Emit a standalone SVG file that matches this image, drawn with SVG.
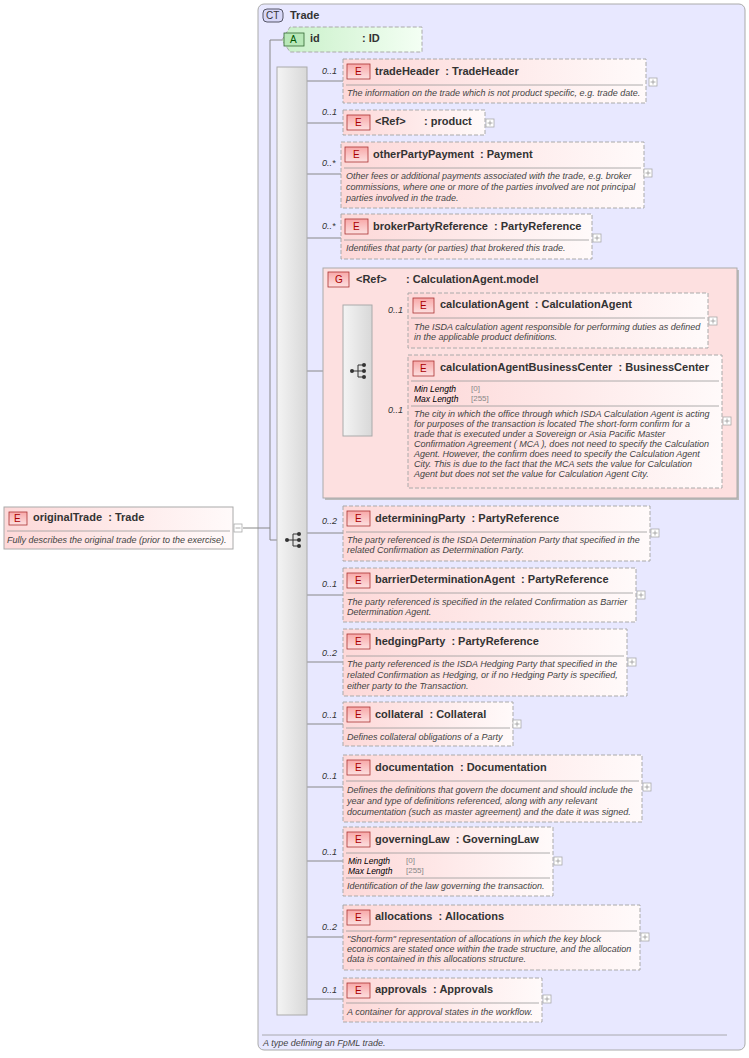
<svg xmlns="http://www.w3.org/2000/svg" width="749" height="1058" viewBox="0 0 749 1058">
<defs>
<linearGradient id="eg" x1="0" y1="0" x2="1" y2="0"><stop offset="0" stop-color="#fdd8d8"/><stop offset="1" stop-color="#fffafa"/></linearGradient>
<linearGradient id="ag" x1="0" y1="0" x2="1" y2="0"><stop offset="0" stop-color="#c8f0c8"/><stop offset="1" stop-color="#f4fff4"/></linearGradient>
<linearGradient id="sg" x1="0" y1="0" x2="1" y2="0"><stop offset="0" stop-color="#f4f4f4"/><stop offset="1" stop-color="#d8d8d8"/></linearGradient>
<linearGradient id="bg" x1="0" y1="0" x2="0" y2="1"><stop offset="0" stop-color="#f8a8a8"/><stop offset="1" stop-color="#fde0e0"/></linearGradient>
<g id="seqicon"><circle cx="-6" cy="0" r="2" fill="#333"/><path d="M-6 0H0M0 -6V6M0 -6H5M0 0H5M0 6H5" stroke="#333" fill="none"/><circle cx="6" cy="-6" r="2" fill="#333"/><circle cx="6" cy="0" r="2" fill="#333"/><circle cx="6" cy="6" r="2" fill="#333"/></g>
<g id="plus"><rect x="-4" y="-4" width="8" height="8" fill="#fff" stroke="#aaa" stroke-width="0.8"/><path d="M-2.5 0H2.5M0 -2.5V2.5" stroke="#999" stroke-width="0.8"/></g>
</defs>
<style>
text{font-family:"Liberation Sans",Arial,sans-serif;fill:#333;white-space:pre}
.n{font-size:11px;font-weight:bold}
.d{font-size:9px;font-style:italic;fill:#444}
.c{font-size:9px;font-style:italic;fill:#333}
.f{font-size:8.5px;font-style:italic;fill:#000}
.v{font-size:8px;fill:#888}
.box{fill:url(#eg);stroke:#aaa;stroke-dasharray:4 2}
.sol{fill:url(#eg);stroke:#aaa}
.bad{fill:url(#bg);stroke:#a33;stroke-width:0.8}
.bl{font-size:10px;fill:#a00}
.sep{stroke:#999;stroke-width:0.8}
.ln{stroke:#888;fill:none}
</style>
<rect x="258" y="4" width="487" height="1046" rx="6" fill="#e8e8ff" stroke="#aaa"/>
<rect x="263" y="9" width="20" height="13" rx="4" fill="#d8d8f8" stroke="#556"/>
<text x="266" y="19" style="font-size:10px">CT</text>
<text x="290" y="19" class="n">Trade</text>
<line x1="262" y1="1035" x2="727" y2="1035" class="sep"/>
<text x="263" y="1046" class="d">A type defining an FpML trade.</text>

<g id="connectors">
<path class="ln" d="M243 528H270M270 40V540H285M270 40H282"/>
<path class="ln" d="M307 81H343M307 123H343M307 174H341M307 238H341M307 371H343M372 321H408M372 421H408M307 533H343M307 595H343M307 662H343M307 724H343M307 787H343M307 861H343M307 937H343M307 999H343"/>
</g>

<g id="originalTrade">
<rect x="4" y="507" width="229" height="42" class="sol"/>
<rect x="9" y="512" width="18" height="13" class="bad"/><text x="14" y="522" class="bl">E</text>
<text x="33" y="521" class="n">originalTrade  : Trade</text>
<line x1="7" y1="531" x2="230" y2="531" class="sep"/>
<text x="7" y="543" class="d">Fully describes the original trade (prior to the exercise).</text>
<rect x="234" y="524" width="8" height="8" fill="#fff" stroke="#aaa" stroke-width="0.8"/><path d="M235.5 528H240.5" stroke="#999" stroke-width="0.8"/>
</g>

<g id="attr-id">
<path d="M282 40L290 27H422V52H290Z" fill="url(#ag)" stroke="#aaa" stroke-dasharray="4 2"/>
<rect x="284" y="33" width="20" height="13" fill="#b8e8b8" stroke="#363" stroke-width="0.8"/><text x="290" y="43" style="font-size:10px;fill:#050">A</text>
<text x="310" y="42" class="n">id</text><text x="362" y="42" class="n">: ID</text>
</g>

<g id="sequence">
<rect x="277" y="67" width="30" height="948" fill="url(#sg)" stroke="#aaa"/>
<use href="#seqicon" x="293" y="540"/>
</g>

<g id="tradeHeader">
<text x="322" y="74" class="c">0..1</text>
<rect x="343" y="59" width="303" height="44" class="box"/>
<rect x="347" y="64" width="23" height="15" class="bad"/><text x="355" y="75" class="bl">E</text>
<text x="375" y="75" class="n">tradeHeader  : TradeHeader</text>
<line x1="346" y1="85" x2="643" y2="85" class="sep"/>
<text x="347" y="96" class="d">The information on the trade which is not product specific, e.g. trade date.</text>
<use href="#plus" x="653" y="82"/>
</g>

<g id="product">
<text x="322" y="115" class="c">0..1</text>
<rect x="343" y="110" width="142" height="25" class="box"/>
<rect x="347" y="115" width="23" height="15" class="bad"/><text x="355" y="126" class="bl">E</text>
<text x="375" y="125" class="n">&lt;Ref&gt;</text><text x="424" y="125" class="n">: product</text>
<use href="#plus" x="490" y="123"/>
</g>

<g id="otherPartyPayment">
<text x="322" y="166" class="c">0..*</text>
<rect x="341" y="142" width="303" height="66" class="box"/>
<rect x="345" y="147" width="23" height="15" class="bad"/><text x="353" y="158" class="bl">E</text>
<text x="373" y="158" class="n">otherPartyPayment  : Payment</text>
<line x1="344" y1="168" x2="641" y2="168" class="sep"/>
<text x="346" y="179" class="d">Other fees or additional payments associated with the trade, e.g. broker</text>
<text x="346" y="190" class="d">commissions, where one or more of the parties involved are not principal</text>
<text x="346" y="201" class="d">parties involved in the trade.</text>
<use href="#plus" x="648" y="173"/>
</g>

<g id="brokerPartyReference">
<text x="322" y="229" class="c">0..*</text>
<rect x="341" y="214" width="251" height="45" class="box"/>
<rect x="345" y="219" width="23" height="15" class="bad"/><text x="353" y="230" class="bl">E</text>
<text x="373" y="230" class="n">brokerPartyReference  : PartyReference</text>
<line x1="344" y1="240" x2="589" y2="240" class="sep"/>
<text x="346" y="251" class="d">Identifies that party (or parties) that brokered this trade.</text>
<use href="#plus" x="597" y="238"/>
</g>

<g id="CalculationAgent.model">
<rect x="325" y="270" width="414" height="230" fill="#bbb"/>
<rect x="323" y="268" width="414" height="230" fill="#fde0e0" stroke="#aaa"/>
<rect x="328" y="272" width="21" height="15" class="bad"/><text x="335" y="283" class="bl">G</text>
<text x="356" y="283" class="n">&lt;Ref&gt;</text><text x="406" y="283" class="n">: CalculationAgent.model</text>
<rect x="343" y="305" width="29" height="131" fill="url(#sg)" stroke="#aaa"/>
<use href="#seqicon" x="358" y="371"/>
</g>

<g id="calculationAgent">
<text x="388" y="313" class="c">0..1</text>
<rect x="408" y="293" width="300" height="55" class="box"/>
<rect x="413" y="298" width="21" height="15" class="bad"/><text x="420" y="309" class="bl">E</text>
<text x="440" y="308" class="n">calculationAgent  : CalculationAgent</text>
<line x1="411" y1="318" x2="705" y2="318" class="sep"/>
<text x="414" y="330" class="d">The ISDA calculation agent responsible for performing duties as defined</text>
<text x="414" y="340" class="d">in the applicable product definitions.</text>
<use href="#plus" x="713" y="321"/>
</g>

<g id="calculationAgentBusinessCenter">
<text x="388" y="413" class="c">0..1</text>
<rect x="408" y="355" width="314" height="133" class="box"/>
<rect x="413" y="361" width="21" height="15" class="bad"/><text x="420" y="372" class="bl">E</text>
<text x="440" y="371" class="n">calculationAgentBusinessCenter  : BusinessCenter</text>
<line x1="411" y1="381" x2="719" y2="381" class="sep"/>
<text x="414" y="392" class="f">Min Length</text><text x="471" y="391" class="v">[0]</text>
<text x="414" y="402" class="f">Max Length</text><text x="471" y="401" class="v">[255]</text>
<line x1="411" y1="406" x2="719" y2="406" class="sep"/>
<text x="414" y="417" class="d">The city in which the office through which ISDA Calculation Agent is acting</text>
<text x="414" y="427" class="d">for purposes of the transaction is located The short-form confirm for a</text>
<text x="414" y="437" class="d">trade that is executed under a Sovereign or Asia Pacific Master</text>
<text x="414" y="447" class="d">Confirmation Agreement ( MCA ), does not need to specify the Calculation</text>
<text x="414" y="457" class="d">Agent. However, the confirm does need to specify the Calculation Agent</text>
<text x="414" y="467" class="d">City. This is due to the fact that the MCA sets the value for Calculation</text>
<text x="414" y="477" class="d">Agent but does not set the value for Calculation Agent City.</text>
<use href="#plus" x="727" y="421"/>
</g>

<g id="determiningParty">
<text x="322" y="524" class="c">0..2</text>
<rect x="343" y="506" width="307" height="55" class="box"/>
<rect x="347" y="511" width="23" height="15" class="bad"/><text x="355" y="522" class="bl">E</text>
<text x="375" y="522" class="n">determiningParty  : PartyReference</text>
<line x1="346" y1="532" x2="647" y2="532" class="sep"/>
<text x="347" y="543" class="d">The party referenced is the ISDA Determination Party that specified in the</text>
<text x="347" y="553" class="d">related Confirmation as Determination Party.</text>
<use href="#plus" x="655" y="533"/>
</g>

<g id="barrierDeterminationAgent">
<text x="322" y="587" class="c">0..1</text>
<rect x="343" y="568" width="293" height="54" class="box"/>
<rect x="347" y="573" width="23" height="15" class="bad"/><text x="355" y="584" class="bl">E</text>
<text x="375" y="583" class="n">barrierDeterminationAgent  : PartyReference</text>
<line x1="346" y1="593" x2="633" y2="593" class="sep"/>
<text x="347" y="605" class="d">The party referenced is specified in the related Confirmation as Barrier</text>
<text x="347" y="615" class="d">Determination Agent.</text>
<use href="#plus" x="641" y="595"/>
</g>

<g id="hedgingParty">
<text x="322" y="656" class="c">0..2</text>
<rect x="343" y="629" width="284" height="67" class="box"/>
<rect x="347" y="634" width="23" height="15" class="bad"/><text x="355" y="645" class="bl">E</text>
<text x="375" y="645" class="n">hedgingParty  : PartyReference</text>
<line x1="346" y1="656" x2="624" y2="656" class="sep"/>
<text x="347" y="667" class="d">The party referenced is the ISDA Hedging Party that specified in the</text>
<text x="347" y="678" class="d">related Confirmation as Hedging, or if no Hedging Party is specified,</text>
<text x="347" y="689" class="d">either party to the Transaction.</text>
<use href="#plus" x="632" y="662"/>
</g>

<g id="collateral">
<text x="322" y="718" class="c">0..1</text>
<rect x="343" y="702" width="170" height="44" class="box"/>
<rect x="347" y="707" width="23" height="15" class="bad"/><text x="355" y="718" class="bl">E</text>
<text x="375" y="718" class="n">collateral  : Collateral</text>
<line x1="346" y1="728" x2="510" y2="728" class="sep"/>
<text x="347" y="740" class="d">Defines collateral obligations of a Party</text>
<use href="#plus" x="517" y="724"/>
</g>

<g id="documentation">
<text x="322" y="779" class="c">0..1</text>
<rect x="343" y="755" width="299" height="67" class="box"/>
<rect x="347" y="760" width="23" height="15" class="bad"/><text x="355" y="771" class="bl">E</text>
<text x="375" y="771" class="n">documentation  : Documentation</text>
<line x1="346" y1="781" x2="639" y2="781" class="sep"/>
<text x="347" y="793" class="d">Defines the definitions that govern the document and should include the</text>
<text x="347" y="804" class="d">year and type of definitions referenced, along with any relevant</text>
<text x="347" y="815" class="d">documentation (such as master agreement) and the date it was signed.</text>
<use href="#plus" x="647" y="787"/>
</g>

<g id="governingLaw">
<text x="322" y="855" class="c">0..1</text>
<rect x="343" y="827" width="210" height="69" class="box"/>
<rect x="347" y="832" width="23" height="15" class="bad"/><text x="355" y="843" class="bl">E</text>
<text x="375" y="843" class="n">governingLaw  : GoverningLaw</text>
<line x1="346" y1="853" x2="550" y2="853" class="sep"/>
<text x="348" y="864" class="f">Min Length</text><text x="406" y="863" class="v">[0]</text>
<text x="348" y="874" class="f">Max Length</text><text x="406" y="873" class="v">[255]</text>
<line x1="346" y1="878" x2="550" y2="878" class="sep"/>
<text x="347" y="889" class="d">Identification of the law governing the transaction.</text>
<use href="#plus" x="558" y="861"/>
</g>

<g id="allocations">
<text x="322" y="930" class="c">0..2</text>
<rect x="343" y="905" width="297" height="65" class="box"/>
<rect x="347" y="910" width="23" height="15" class="bad"/><text x="355" y="921" class="bl">E</text>
<text x="375" y="920" class="n">allocations  : Allocations</text>
<line x1="346" y1="931" x2="637" y2="931" class="sep"/>
<text x="347" y="942" class="d">"Short-form" representation of allocations in which the key block</text>
<text x="347" y="952" class="d">economics are stated once within the trade structure, and the allocation</text>
<text x="347" y="962" class="d">data is contained in this allocations structure.</text>
<use href="#plus" x="645" y="937"/>
</g>

<g id="approvals">
<text x="322" y="993" class="c">0..1</text>
<rect x="343" y="978" width="199" height="44" class="box"/>
<rect x="347" y="983" width="23" height="15" class="bad"/><text x="355" y="994" class="bl">E</text>
<text x="375" y="993" class="n">approvals  : Approvals</text>
<line x1="346" y1="1003" x2="539" y2="1003" class="sep"/>
<text x="347" y="1015" class="d">A container for approval states in the workflow.</text>
<use href="#plus" x="547" y="999"/>
</g>
</svg>
